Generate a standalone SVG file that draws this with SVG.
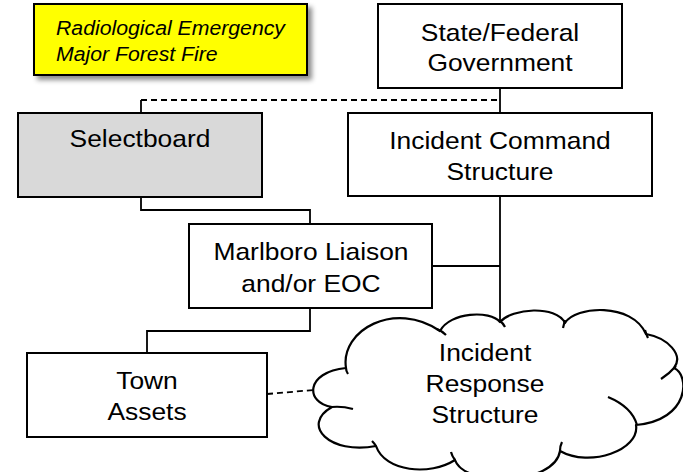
<svg xmlns="http://www.w3.org/2000/svg" width="683" height="472" viewBox="0 0 683 472">
<defs>
<filter id="sh" x="-10%" y="-20%" width="130%" height="160%">
<feDropShadow dx="4" dy="4" stdDeviation="2.5" flood-color="#000" flood-opacity="0.45"/>
</filter>
</defs>
<style>
.box{fill:#fff;stroke:#000;stroke-width:2}
.t{font-family:"Liberation Sans",Arial,sans-serif;font-size:24px;fill:#000;text-anchor:middle}
.it{font-family:"Liberation Sans",Arial,sans-serif;font-size:19.5px;font-style:italic;fill:#000}
.ln{fill:none;stroke:#000;stroke-width:1.8}
.dash{fill:none;stroke:#000;stroke-width:1.8;stroke-dasharray:6 4}
.cloud{fill:#fff;stroke:#000;stroke-width:2.2;stroke-linejoin:round}
.tail{fill:none;stroke:#000;stroke-width:2.2}
</style>
<g id="connectors">
<path class="dash" d="M141 100 H500"/>
<path class="ln" d="M141 100 V113"/>
<path class="ln" d="M500 88 V113"/>
<path class="ln" d="M141 197 V210 H310 V224"/>
<path class="ln" d="M500 196 V322"/>
<path class="ln" d="M432 266 H500"/>
<path class="ln" d="M310 308 V331 H147 V353"/>
<path class="dash" d="M267 394 L314 390"/>
</g>
<g id="emergency">
<rect x="34" y="4" width="273" height="71" fill="#ffff00" stroke="#000" stroke-width="2" filter="url(#sh)"/>
<text class="it" transform="translate(56,35) scale(1.09,1)">Radiological Emergency</text>
<text class="it" transform="translate(56,61) scale(1.09,1)">Major Forest Fire</text>
</g>
<g id="state-federal">
<rect class="box" x="378" y="4" width="244" height="84"/>
<text class="t" transform="translate(500,41) scale(1.1,1)">State/Federal</text>
<text class="t" transform="translate(500,71) scale(1.1,1)">Government</text>
</g>
<g id="selectboard">
<rect class="box" x="18" y="113" width="244" height="84" style="fill:#d9d9d9"/>
<text class="t" transform="translate(140,147) scale(1.1,1)">Selectboard</text>
</g>
<g id="ics">
<rect class="box" x="348" y="113" width="304" height="83"/>
<text class="t" transform="translate(500,149) scale(1.1,1)">Incident Command</text>
<text class="t" transform="translate(500,180) scale(1.1,1)">Structure</text>
</g>
<g id="marlboro">
<rect class="box" x="189" y="224" width="243" height="84"/>
<text class="t" transform="translate(311,260) scale(1.1,1)">Marlboro Liaison</text>
<text class="t" transform="translate(311,292) scale(1.1,1)">and/or EOC</text>
</g>
<g id="town-assets">
<rect class="box" x="27" y="353" width="240" height="84"/>
<text class="t" transform="translate(147,389) scale(1.1,1)">Town</text>
<text class="t" transform="translate(147,420) scale(1.1,1)">Assets</text>
</g>
<g id="incident-response">
<path class="cloud" d="M346 368 C340 330 395 300 440 331 C450 312 490 310 500 322 C512 308 556 305 565 323 C575 306 632 302 646 334 C668 338 684 355 674 368 C690 375 690 420 636 425 C640 450 590 468 560 451 C555 485 465 488 455 460 C430 476 385 472 376 446 C330 455 300 425 332 407 C305 403 305 372 346 368 Z"/>
<path class="tail" d="M346 368 Q346 371 348 374"/>
<path class="tail" d="M437 329 Q442 331 446 335"/>
<path class="tail" d="M500 321 Q503 323 505 327"/>
<path class="tail" d="M565 320 Q564 324 563 328"/>
<path class="tail" d="M645 330 Q646 334 648 338"/>
<path class="tail" d="M676 366 Q670 373 661 379"/>
<path class="tail" d="M608 397 Q632 407 637 425"/>
<path class="tail" d="M560 451 Q560 446 562 442"/>
<path class="tail" d="M455 460 Q452 456 451 452"/>
<path class="tail" d="M376 446 Q374 443 372 441"/>
<path class="tail" d="M332 407 Q342 406 353 409"/>
<text class="t" transform="translate(485,361) scale(1.1,1)">Incident</text>
<text class="t" transform="translate(485,392) scale(1.1,1)">Response</text>
<text class="t" transform="translate(485,423) scale(1.1,1)">Structure</text>
</g>
</svg>
